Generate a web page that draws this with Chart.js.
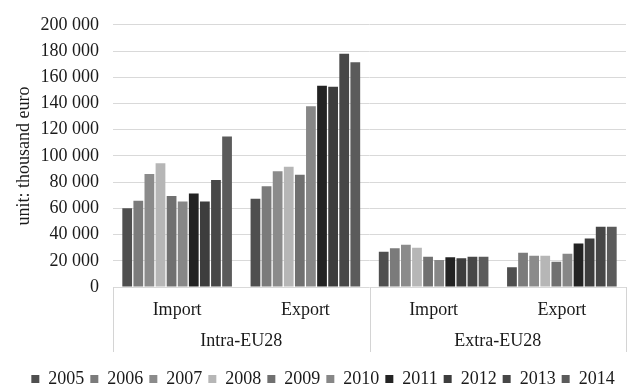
<!DOCTYPE html>
<html>
<head>
<meta charset="utf-8">
<script src="https://cdn.jsdelivr.net/npm/chart.js@4"></script>
<style>
html,body{margin:0;padding:0;background:#fff;}
#wrap{width:634px;height:384px;}
</style>
</head>
<body>
<div id="wrap"><canvas id="c" width="634" height="384"></canvas></div>
<script>
const categories = ['Import', 'Export', 'Import', 'Export'];
const groups = ['Intra-EU28', 'Extra-EU28'];
const years = ['2005','2006','2007','2008','2009','2010','2011','2012','2013','2014'];
const v2005 = [60000, 67300, 26900, 15100];
const v2006 = [65800, 76800, 29500, 26200];
const v2007 = [86200, 88300, 32300, 23800];
const v2008 = [94400, 91800, 30000, 23800];
const v2009 = [69400, 85700, 23100, 19200];
const v2010 = [65300, 137800, 20500, 25400];
const v2011 = [71400, 153600, 22600, 33100];
const v2012 = [65300, 152800, 22000, 36900];
const v2013 = [81600, 178000, 23100, 45900];
const v2014 = [114800, 171400, 23100, 45900];
const seriesValues = [v2005, v2006, v2007, v2008, v2009, v2010, v2011, v2012, v2013, v2014];
const colors = ['#4f4f4f','#7b7b7b','#8b8b8b','#b6b6b6','#707070','#878787','#232323','#3d3d3d','#474747','#5b5b5b'];

const FONT = "'Liberation Serif', 'Times New Roman', serif";
const TXT = '#1a1a1a';

const groupPlugin = {
  id: 'groupPlugin',
  afterLayout(chart) {
    const lg = chart.legend;
    if (lg) {
      lg.left += 10; lg.right += 10;
      lg.top += 14; lg.bottom += 14;
    }
  },
  afterDraw(chart) {
    const x = chart.scales.x;
    const ctx = chart.ctx;
    const ca = chart.chartArea;
    const top = x.top;
    const bottom = x.top + 65;
    const mid = (x.getPixelForTick(1) + x.getPixelForTick(2)) / 2;
    ctx.save();
    ctx.strokeStyle = '#d4d4d4';
    ctx.lineWidth = 1;
    [ca.left, mid, ca.right].forEach(px => {
      ctx.beginPath();
      ctx.moveTo(Math.round(px) + 0.5, top);
      ctx.lineTo(Math.round(px) + 0.5, bottom);
      ctx.stroke();
    });
    ctx.fillStyle = TXT;
    ctx.font = "18px " + FONT;
    ctx.textAlign = 'center';
    ctx.textBaseline = 'middle';
    const c1 = (x.getPixelForTick(0) + x.getPixelForTick(1)) / 2;
    const c2 = (x.getPixelForTick(2) + x.getPixelForTick(3)) / 2;
    ctx.fillText(groups[0], c1, top + 54);
    ctx.fillText(groups[1], c2, top + 54);
    ctx.restore();
  }
};

new Chart(document.getElementById('c'), {
  type: 'bar',
  data: {
    labels: categories,
    datasets: years.map((y, i) => ({
      label: y,
      data: seriesValues[i],
      backgroundColor: colors[i],
      borderWidth: 0,
      barPercentage: 0.88,
      categoryPercentage: 0.865
    }))
  },
  options: {
    responsive: false,
    animation: false,
    devicePixelRatio: 1,
    layout: { padding: { top: 12, right: 8, left: 0, bottom: 0 } },
    plugins: {
      legend: {
        position: 'bottom',
        labels: {
          font: { family: FONT, size: 18 },
          color: TXT,
          boxWidth: 8,
          boxHeight: 8,
          padding: 6
        }
      },
      tooltip: { enabled: false }
    },
    scales: {
      x: {
        grid: { display: false, drawTicks: false },
        border: { display: false },
        ticks: { font: { family: FONT, size: 18 }, color: TXT, padding: 12 },
        afterFit(scale) { scale.height = 63; }
      },
      y: {
        min: 0,
        max: 200000,
        grid: { color: '#d9d9d9', drawTicks: false },
        border: { display: false },
        ticks: {
          stepSize: 20000,
          padding: 14,
          font: { family: FONT, size: 18 },
          color: TXT,
          callback: v => String(v).replace(/\B(?=(\d{3})+(?!\d))/g, ' ')
        },
        title: {
          display: true,
          text: 'unit: thousand euro',
          font: { family: FONT, size: 18 },
          color: TXT,
          padding: { top: 13, bottom: 4 }
        },
        afterFit(scale) { scale.width = 113; }
      }
    }
  },
  plugins: [groupPlugin]
});
</script>
</body>
</html>
